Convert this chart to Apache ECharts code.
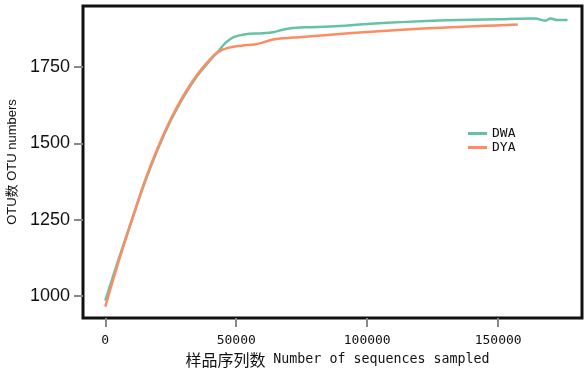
<!DOCTYPE html>
<html>
<head>
<meta charset="utf-8">
<script src="https://cdn.jsdelivr.net/npm/echarts@6/dist/echarts.min.js"></script>
<style>
  html, body { margin: 0; padding: 0; background: #fff; }
  #chart { width: 586px; height: 375px; }
</style>
</head>
<body>
<div id="chart"></div>
<script>
// rarefaction curves
const dwaDepth = [0, 5000, 10000, 15000, 20000, 25000, 30000, 35000, 40000, 43000, 46000, 49000, 53000, 60000, 64000, 69000, 76000, 86000, 100000, 115000, 130000, 150000, 164000, 168000, 170000, 172500, 176500]
const dwaOtu = [985, 1118, 1245, 1370, 1480, 1575, 1654, 1720, 1772, 1800, 1830, 1848, 1857, 1861, 1864, 1875, 1880, 1883, 1891, 1898, 1903, 1907, 1909, 1902, 1909, 1904, 1904]

const dyaDepth = [0, 5000, 10000, 15000, 20000, 25000, 30000, 35000, 40000, 43000, 46500, 52000, 57000, 60000, 64000, 68000, 74000, 86000, 100000, 115000, 128000, 145000, 157500]
const dyaOtu = [965, 1110, 1245, 1374, 1485, 1580, 1659, 1724, 1775, 1799, 1812, 1820, 1824, 1830, 1840, 1844, 1848, 1856, 1865, 1873, 1879, 1885, 1889]

const xTicks = [0, 50000, 100000, 150000]
const yTicks = [1000, 1250, 1500, 1750]

const seriesNames = ['DWA', 'DYA']
const seriesColors = ['#66c2a5', '#fc8d62']

function zip(xs, ys) {
  return xs.map((x, i) => [x, ys[i]])
}

const chart = echarts.init(document.getElementById('chart'), null, { renderer: 'canvas' })

const monoFont = '"DejaVu Sans Mono", monospace'

chart.setOption({
  animation: false,
  grid: {
    left: 83,
    right: 4,
    top: 6,
    bottom: 57,
    outerBoundsMode: 'none',
    containLabel: false,
    show: true,
    borderColor: '#111',
    borderWidth: 3,
  },
  legend: {
    left: 468,
    top: 127,
    padding: 0,
    orient: 'vertical',
    icon: 'rect',
    itemWidth: 19,
    itemHeight: 3,
    itemGap: 1,
    textStyle: { fontFamily: monoFont, fontSize: 13, color: '#111' },
    data: seriesNames,
  },
  xAxis: {
    type: 'value',
    min: -8500,
    max: 182000,
    axisLine: { show: false, onZero: false },
    splitLine: { show: false },
    axisTick: {
      show: true,
      customValues: xTicks,
      length: 9,
      lineStyle: { color: '#888', width: 2 },
    },
    axisLabel: {
      customValues: xTicks,
      margin: 16,
      fontFamily: monoFont,
      fontSize: 13,
      color: '#111',
      formatter: (v) => String(v),
    },
    name: '{cn|样品序列数} {en|Number of sequences sampled}',
    nameLocation: 'middle',
    nameGap: 33,
    nameTextStyle: {
      fontFamily: monoFont,
      fontSize: 13,
      color: '#111',
      padding: [0, 0, 0, 10],
      rich: {
        cn: { fontFamily: '"Noto Sans CJK SC", sans-serif', fontSize: 16, color: '#111' },
        en: { fontFamily: monoFont, fontSize: 13.3, color: '#111' },
      },
    },
  },
  yAxis: {
    type: 'value',
    min: 928,
    max: 1950,
    axisLine: { show: false, onZero: false },
    splitLine: { show: false },
    axisTick: {
      show: true,
      customValues: yTicks,
      length: 9,
      lineStyle: { color: '#888', width: 2 },
    },
    axisLabel: {
      customValues: yTicks,
      margin: 13,
      fontFamily: '"Liberation Sans", Arial, sans-serif',
      fontSize: 18,
      color: '#111',
      formatter: (v) => String(v),
    },
    name: 'OTU数 OTU numbers',
    nameLocation: 'middle',
    nameGap: 56,
    nameTextStyle: {
      fontFamily: '"Liberation Sans", "Noto Sans CJK SC", sans-serif',
      fontSize: 13,
      color: '#111',
    },
  },
  series: [
    {
      name: seriesNames[0],
      type: 'line',
      data: zip(dwaDepth, dwaOtu),
      smooth: 0.4,
      symbol: 'none',
      color: seriesColors[0],
      lineStyle: { width: 2.5, color: seriesColors[0] },
    },
    {
      name: seriesNames[1],
      type: 'line',
      data: zip(dyaDepth, dyaOtu),
      smooth: 0.4,
      symbol: 'none',
      color: seriesColors[1],
      lineStyle: { width: 2.5, color: seriesColors[1] },
    },
  ],
})
</script>
</body>
</html>
